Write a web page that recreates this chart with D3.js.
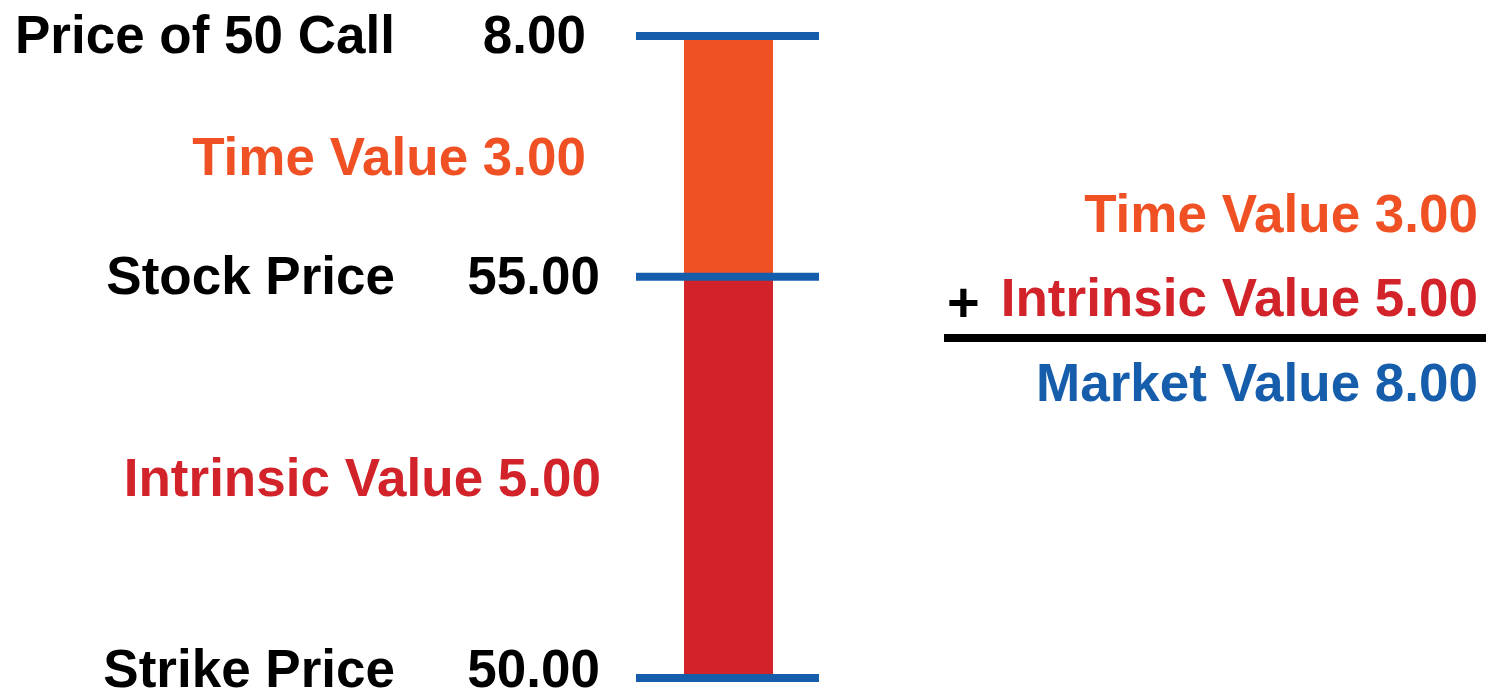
<!DOCTYPE html>
<html>
<head>
<meta charset="utf-8">
<script src="https://cdn.jsdelivr.net/npm/d3@7/dist/d3.min.js"></script>
<style>
  html, body { margin: 0; padding: 0; background: #fff; }
  svg { display: block; }
  text { font-family: "Liberation Sans", Arial, Helvetica, sans-serif; font-weight: bold; }
</style>
</head>
<body>
<svg id="chart" width="1488" height="699"></svg>
<script>
// Call option price broken into intrinsic and time value
const strikePrice = 50;
const stockPrice = 55;
const callPrice = 8;

// Stacked components of the call price, bottom to top
const componentNames = ["Intrinsic Value", "Time Value"];
const componentValues = [stockPrice - strikePrice, callPrice - (stockPrice - strikePrice)];

// Price levels marked across the bar
const levelNames = ["Strike Price", "Stock Price", "Price of 50 Call"];
const levelValues = [strikePrice, stockPrice, strikePrice + callPrice];
const levelLabels = ["50.00", "55.00", "8.00"];

const totalName = "Market Value";

const colors = {
  "Intrinsic Value": "#D2232A",
  "Time Value": "#F05124",
  level: "#165EAB",
  total: "#165EAB",
  ink: "#000000"
};

const fmt = d3.format(".2f");
const svg = d3.select("#chart");
const fontSize = 53;

const y = d3.scaleLinear()
  .domain([strikePrice, strikePrice + callPrice])
  .range([678, 36]);

const barX0 = 684, barX1 = 773;
const lineX0 = 636, lineX1 = 819;

// stack the components on top of the strike price
const stackRow = {};
componentNames.forEach((n, i) => stackRow[n] = componentValues[i]);
const stacked = d3.stack().keys(componentNames)([stackRow]);

svg.append("g")
  .selectAll("rect")
  .data(stacked)
  .join("rect")
  .attr("x", barX0)
  .attr("width", barX1 - barX0)
  .attr("y", s => y(strikePrice + s[0][1]))
  .attr("height", s => y(strikePrice + s[0][0]) - y(strikePrice + s[0][1]))
  .attr("fill", s => colors[s.key]);

// component labels, centred on each segment
svg.append("g")
  .selectAll("text")
  .data(stacked)
  .join("text")
  .attr("x", (s, i) => i === 0 ? 601 : 586)
  .attr("y", s => y(strikePrice + (s[0][0] + s[0][1]) / 2) + 19)
  .attr("text-anchor", "end")
  .attr("font-size", fontSize)
  .attr("fill", s => colors[s.key])
  .text(s => `${s.key} ${fmt(s[0][1] - s[0][0])}`);

// level lines
const levels = levelNames.map((n, i) => ({ name: n, value: levelValues[i], label: levelLabels[i] }));

svg.append("g")
  .selectAll("line")
  .data(levels)
  .join("line")
  .attr("x1", lineX0)
  .attr("x2", lineX1)
  .attr("y1", d => y(d.value))
  .attr("y2", d => y(d.value))
  .attr("stroke", colors.level)
  .attr("stroke-width", 8);

// level captions sit just below their line; the lowest one is kept inside the frame
const levelText = svg.append("g")
  .selectAll("g")
  .data(levels)
  .join("g")
  .attr("transform", (d, i) => `translate(0,${y(d.value) + (i === 0 ? 9 : 17)})`);

levelText.append("text")
  .attr("x", 395)
  .attr("text-anchor", "end")
  .attr("font-size", fontSize)
  .attr("fill", colors.ink)
  .text(d => d.name);

levelText.append("text")
  .attr("x", (d, i) => i === levels.length - 1 ? 586 : 600)
  .attr("text-anchor", "end")
  .attr("font-size", fontSize)
  .attr("fill", colors.ink)
  .text(d => d.label);

// summation on the right
const sumX = 1478;
const sumRows = [componentNames[1], componentNames[0]];
const sumBaselines = [232, 316];
const sum = svg.append("g");

sum.selectAll("text.row")
  .data(sumRows)
  .join("text")
  .attr("class", "row")
  .attr("x", sumX)
  .attr("y", (d, i) => sumBaselines[i])
  .attr("text-anchor", "end")
  .attr("font-size", fontSize)
  .attr("fill", d => colors[d])
  .text(d => `${d} ${fmt(componentValues[componentNames.indexOf(d)])}`);

sum.append("text")
  .attr("x", 947)
  .attr("y", 321)
  .attr("font-size", 56)
  .attr("fill", colors.ink)
  .text("+");

sum.append("line")
  .attr("x1", 944)
  .attr("x2", 1486)
  .attr("y1", 338)
  .attr("y2", 338)
  .attr("stroke", colors.ink)
  .attr("stroke-width", 8);

sum.append("text")
  .attr("x", sumX)
  .attr("y", 401)
  .attr("text-anchor", "end")
  .attr("font-size", fontSize)
  .attr("fill", colors.total)
  .text(`${totalName} ${fmt(d3.sum(componentValues))}`);
</script>
</body>
</html>
